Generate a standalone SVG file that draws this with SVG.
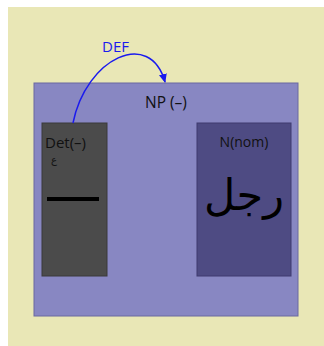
<svg xmlns="http://www.w3.org/2000/svg" width="324" height="346" viewBox="0 0 324 346">
<style>
.lbl{font-family:"Open Sans","DejaVu Sans",sans-serif;fill:#111}
.box{stroke-width:1}
</style>
<defs>
<marker id="ah" markerWidth="10" markerHeight="10" refX="8" refY="5" orient="auto" markerUnits="userSpaceOnUse">
<path d="M0,1 L9,5 L0,9 Z" fill="#1a1aee"/>
</marker>
</defs>
<rect x="0" y="0" width="324" height="346" fill="#ffffff"/>
<rect x="8" y="7" width="316" height="339" fill="#e9e7b6"/>
<g id="np">
<rect class="box" x="34" y="83" width="264" height="233" fill="#8887c2" stroke="#6a69a0"/>
<text class="lbl" x="166" y="108" font-size="15.5" text-anchor="middle">NP (–)</text>
</g>
<g id="det">
<rect class="box" x="42" y="123" width="65" height="153" fill="#4b4b4b" stroke="#3a3a3a"/>
<text class="lbl" x="45" y="148" font-size="15">Det(–)</text>
<text class="lbl" x="51" y="163" font-size="10" font-family="'DejaVu Sans',sans-serif">ع</text>
<rect x="47" y="197" width="52" height="4" fill="#000"/>
</g>
<g id="n">
<rect class="box" x="197" y="123" width="94" height="153" fill="#4e4b83" stroke="#3e3b6e"/>
<text class="lbl" x="244" y="147" font-size="14" text-anchor="middle">N(nom)</text>
<text x="244" y="210" font-size="43" text-anchor="middle" fill="#000" font-family="'DejaVu Sans','Noto Sans',sans-serif">رجل</text>
</g>
<g id="connectors">
<path d="M73,123 C86,58 150,28 165,82" fill="none" stroke="#1a1aee" stroke-width="1.5" marker-end="url(#ah)"/>
<text x="102" y="52" font-size="15" fill="#1a1aee" font-family="'Open Sans','DejaVu Sans',sans-serif">DEF</text>
</g>
</svg>
